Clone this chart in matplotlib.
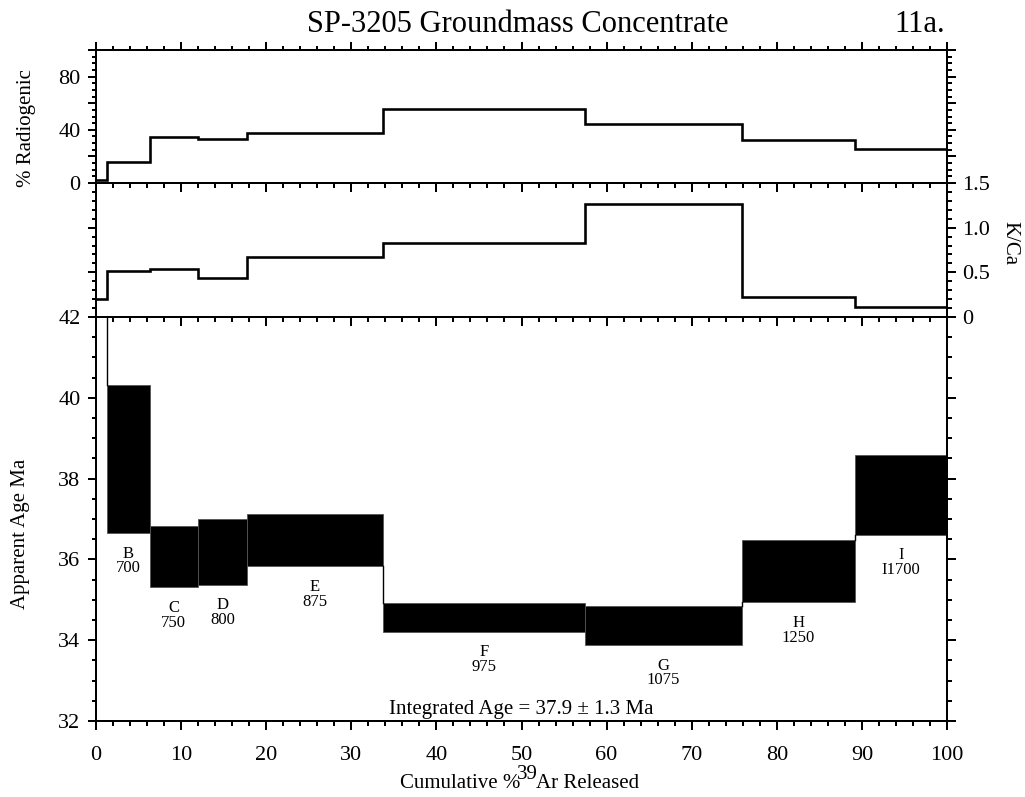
import matplotlib
matplotlib.use("Agg")
import matplotlib.pyplot as plt
from matplotlib.ticker import MultipleLocator, FixedLocator, FixedFormatter

plt.rcParams['font.family'] = ['Liberation Serif', 'DejaVu Serif']

# ---- data ----
edges = [0, 1.3, 6.3, 12.0, 17.7, 33.7, 57.5, 75.9, 89.2, 100]
steps = ["A", "B", "C", "D", "E", "F", "G", "H", "I"]
temps = ["", "700", "750", "800", "875", "975", "1075", "1250", "I1700"]
radiogenic = [2.5, 16, 34.8, 33.3, 37.3, 55.6, 44.4, 32.1, 25.8]
k_ca = [0.2, 0.52, 0.535, 0.44, 0.675, 0.825, 1.265, 0.22, 0.11]
age_low = [43.5, 36.65, 35.31, 35.37, 35.83, 34.21, 33.88, 34.94, 36.61]
age_high = [47.0, 40.32, 36.82, 36.99, 37.13, 34.92, 34.85, 36.47, 38.59]
integrated = "Integrated Age = 37.9 \u00b1 1.3 Ma"

W_, H_ = 1025, 797
fig = plt.figure(figsize=(W_ / 100, H_ / 100), dpi=100)
L = 96 / W_
Wd = (947 - 96) / W_
ax1 = fig.add_axes([L, 1 - 183 / H_, Wd, 133 / H_])
ax2 = fig.add_axes([L, 1 - 317 / H_, Wd, 134 / H_])
ax3 = fig.add_axes([L, 1 - 721 / H_, Wd, 404 / H_])

PX = 0.72  # points per pixel
for ax in (ax1, ax2, ax3):
    ax.patch.set_visible(False)
    ax.set_xlim(0, 100)
    ax.xaxis.set_major_locator(MultipleLocator(10))
    ax.xaxis.set_minor_locator(MultipleLocator(2))
    for s in ax.spines.values():
        s.set_linewidth(2 * PX)
    ax.tick_params(which='major', direction='out', length=8.5 * PX, width=2 * PX,
                   labelsize=16, pad=5)
    ax.tick_params(which='minor', direction='out', length=4.5 * PX, width=2 * PX)

# top panel
ax1.stairs(radiogenic, edges, baseline=None, color='black', lw=2.6 * PX)
ax1.set_ylim(0, 100)
ax1.yaxis.set_major_locator(FixedLocator([0, 20, 40, 60, 80, 100]))
ax1.yaxis.set_major_formatter(FixedFormatter(["0", "", "40", "", "80", ""]))
ax1.yaxis.set_minor_locator(MultipleLocator(5))
ax1.tick_params(axis='x', which='both', top=True, bottom=True,
                labelbottom=False, labeltop=False)
ax1.tick_params(axis='y', which='both', left=True, right=True,
                labelleft=True, labelright=False)

# middle panel
ax2.stairs(k_ca, edges, baseline=None, color='black', lw=2.6 * PX)
ax2.set_ylim(0, 1.5)
ax2.yaxis.set_major_locator(FixedLocator([0, 0.5, 1.0, 1.5]))
ax2.yaxis.set_major_formatter(FixedFormatter(["0", "0.5", "1.0", "1.5"]))
ax2.yaxis.set_minor_locator(MultipleLocator(0.1))
ax2.tick_params(axis='x', which='both', top=False, bottom=True,
                labelbottom=False, labeltop=False)
ax2.tick_params(axis='y', which='both', left=True, right=True,
                labelleft=False, labelright=True)

# age panel
widths = [edges[i + 1] - edges[i] for i in range(len(steps))]
heights = [h - l for h, l in zip(age_high, age_low)]
ax3.bar(edges[:-1], heights, width=widths, bottom=age_low, align='edge',
        color='black', edgecolor='#555555', linewidth=0.6)
for i in range(len(steps) - 1):
    xb = edges[i + 1]
    if age_high[i + 1] < age_low[i]:
        ax3.plot([xb, xb], [age_high[i + 1], age_low[i]], color='black', lw=1.4 * PX)
    elif age_high[i] < age_low[i + 1]:
        ax3.plot([xb, xb], [age_high[i], age_low[i + 1]], color='black', lw=1.4 * PX)
for i in range(1, len(steps)):
    xc = (edges[i] + edges[i + 1]) / 2
    ax3.annotate(f"{steps[i]}\n{temps[i]}", xy=(xc, age_low[i]), xytext=(0, -9),
                 textcoords='offset points', ha='center', va='top',
                 fontsize=12, linespacing=0.9)
ax3.set_ylim(32, 42)
ax3.yaxis.set_major_locator(MultipleLocator(2))
ax3.yaxis.set_minor_locator(MultipleLocator(0.5))
ax3.tick_params(axis='x', which='both', top=False, bottom=True, labelbottom=True)
ax3.tick_params(axis='x', which='major', pad=12)
ax3.tick_params(axis='y', which='both', left=True, right=True,
                labelleft=True, labelright=False)
ax3.text(0.5, 0.006, integrated, transform=ax3.transAxes, ha='center',
         va='bottom', fontsize=15)

# labels and titles
fig.text(518 / W_, 1 - 32 / H_, "SP-3205 Groundmass Concentrate", ha='center',
         va='baseline', fontsize=22)
fig.text(945 / W_, 1 - 32 / H_, "11a.", ha='right', va='baseline', fontsize=22)
fig.text(27 / W_, 1 - 128 / H_, "% Radiogenic", rotation=90, ha='center',
         va='center', fontsize=15)
fig.text(21 / W_, 1 - 534 / H_, "Apparent Age Ma", rotation=90, ha='center',
         va='center', fontsize=15)
fig.text(1010 / W_, 1 - 243 / H_, "K/Ca", rotation=-90, ha='center',
         va='center', fontsize=15)

# x-axis label with large superscript, built from three pieces
base_y = 1 - 788 / H_
sup_y = 1 - 779 / H_
p1 = fig.text(0, base_y, "Cumulative %", ha='left', va='baseline', fontsize=15)
p2 = fig.text(0, sup_y, "39", ha='left', va='baseline', fontsize=15)
p3 = fig.text(0, base_y, "Ar Released", ha='left', va='baseline', fontsize=15)
fig.canvas.draw()
r = fig.canvas.get_renderer()
ws = [p.get_window_extent(r).width / W_ for p in (p1, p2, p3)]
g1 = -3.0 / W_
g2 = -1.5 / W_
total = sum(ws) + g1 + g2
x0 = 519.5 / W_ - total / 2
p1.set_x(x0)
p2.set_x(x0 + ws[0] + g1)
p3.set_x(x0 + ws[0] + g1 + ws[1] + g2)

fig.savefig("out.png", dpi=100)
